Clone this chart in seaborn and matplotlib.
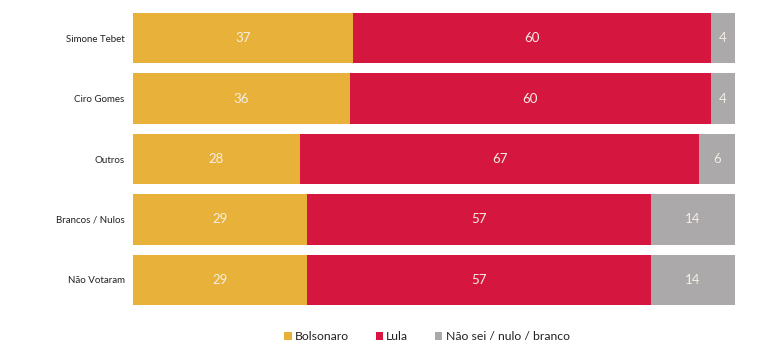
"""Segundo turno: intenção de voto por voto no primeiro turno."""

import matplotlib.pyplot as plt
import numpy as np
import pandas as pd
import seaborn as sns
from matplotlib.patches import Patch

groups = ["Simone Tebet", "Ciro Gomes", "Outros", "Brancos / Nulos", "Não Votaram"]
bolsonaro = [37, 36, 28, 29, 29]
lula = [60, 60, 67, 57, 57]
outros = [4, 4, 6, 14, 14]

series_names = ["Bolsonaro", "Lula", "Não sei / nulo / branco"]
colors = ["#E8B23A", "#D5173F", "#ABA9A9"]

sns.set_theme(style="white")
plt.rcParams["font.family"] = ["Lato", "DejaVu Sans"]

df = pd.DataFrame({"grupo": groups, "b": bolsonaro, "l": lula, "o": outros})
total = df[["b", "l", "o"]].sum(axis=1)
shares = df[["b", "l", "o"]].div(total, axis=0) * 100
cum = shares.cumsum(axis=1)

fig = plt.figure(figsize=(7.68, 3.61), dpi=100)
ax = fig.add_axes([0.173, 0.155, 0.784, 0.809])

# draw from the full bar back to the first segment so they stack
for col, color in zip(["o", "l", "b"], colors[::-1]):
    sns.barplot(x=cum[col], y=df["grupo"], color=color, orient="h",
                width=0.83, ax=ax, linewidth=0, saturation=1)

for i in range(len(groups)):
    starts = [0, cum.loc[i, "b"], cum.loc[i, "l"]]
    for col, start in zip(["b", "l", "o"], starts):
        ax.text(start + shares.loc[i, col] / 2, i, str(df.loc[i, col]),
                ha="center", va="center", fontsize=9.5, color="#F4EEE6")

ax.set_xlim(0, 100)
ax.set_ylim(len(groups) - 1 + 0.415, -0.415)
ax.set_xlabel("")
ax.set_ylabel("")
ax.set_xticks([])
ax.tick_params(axis="y", length=0, pad=6, labelsize=7, labelcolor="#222222")
sns.despine(ax=ax, left=True, bottom=True)

handles = [Patch(facecolor=c, edgecolor="none", label=n) for n, c in zip(series_names, colors)]
fig.legend(handles=handles, loc="center", bbox_to_anchor=(0.556, 0.068), ncol=3,
           frameon=False, fontsize=8.8, handlelength=0.6, handleheight=0.6,
           handletextpad=0.25, columnspacing=2.2, labelcolor="#222222")

fig.savefig("out.png", dpi=100)
plt.close(fig)
